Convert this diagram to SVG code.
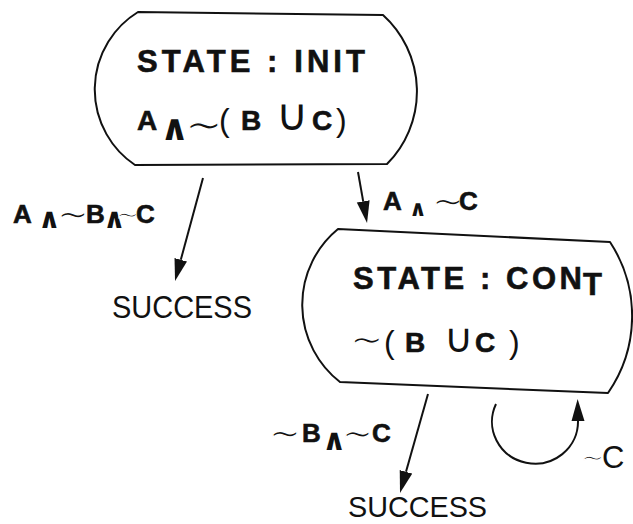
<svg xmlns="http://www.w3.org/2000/svg" width="633" height="524" viewBox="0 0 633 524">
  <style>
    .node { fill: #ffffff; stroke: #111111; stroke-width: 2; stroke-linejoin: round; }
    .edge { fill: none; stroke: #111111; stroke-width: 2; }
    text { fill: #111111; }
    .b { font-family: "Liberation Sans", Arial, sans-serif; font-weight: bold; stroke: #111111; stroke-width: 0.6; }
    .r { font-family: "Liberation Sans", Arial, sans-serif; font-weight: normal; stroke: none; }
    /* tilde: regular weight, thinned by a white outline */
    .t { font-family: "DejaVu Sans", sans-serif; font-weight: normal; stroke: #ffffff; stroke-width: 1.3; }
    /* union sign: light weight */
    .u { font-family: "DejaVu Sans", sans-serif; font-weight: 200; stroke: none; }
    .w { font-family: "DejaVu Sans", sans-serif; font-weight: bold; stroke: none; }
  </style>
  <defs>
    <marker id="head" markerUnits="userSpaceOnUse" markerWidth="24" markerHeight="14" refX="0" refY="6.5" orient="auto">
      <path d="M0,0 L22,6.5 L0,13 Z" fill="#111111"/>
    </marker>
  </defs>

  <!-- initial state -->
  <g id="state-init">
    <path class="node" d="M138,12 L383,15 A103,103 0 0 1 387,164 L135,165 A91,91 0 0 1 138,12 Z"/>
    <text class="b" x="137" y="72" font-size="31" textLength="228" lengthAdjust="spacing">STATE : INIT</text>
    <text class="r" font-size="28"><tspan class="b" x="137" y="130">A</tspan><tspan class="w" x="160" y="140" font-size="36">∧</tspan><tspan class="t" x="185" y="140" font-size="45">∼</tspan><tspan class="r" x="219" y="131" font-size="32">(</tspan><tspan class="b" x="241" y="130">B</tspan><tspan class="u" x="276" y="130" font-size="44">∪</tspan><tspan class="b" x="312" y="130">C</tspan><tspan class="r" x="336" y="131" font-size="32">)</tspan></text>
  </g>

  <!-- continuing state -->
  <g id="state-cont">
    <path class="node" d="M338,229 L610,242 A135,135 0 0 1 608,393 L340,382 A98,98 0 0 1 338,229 Z"/>
    <text class="b" font-size="31"><tspan x="353" y="289" textLength="229" lengthAdjust="spacing">STATE : CON</tspan><tspan x="583" y="295">T</tspan></text>
    <text class="r" font-size="28"><tspan class="t" x="350" y="353" font-size="40">∼</tspan><tspan class="r" x="384" y="353" font-size="32">(</tspan><tspan class="b" x="405" y="352">B</tspan><tspan class="u" x="444" y="352" font-size="40">∪</tspan><tspan class="b" x="475" y="352">C</tspan><tspan class="r" x="509" y="353" font-size="32">)</tspan></text>
  </g>

  <!-- terminal outcomes -->
  <g id="success-1">
    <text class="r" x="112" y="318" font-size="32" textLength="140" lengthAdjust="spacingAndGlyphs">SUCCESS</text>
  </g>
  <g id="success-2">
    <text class="r" x="348" y="517" font-size="30" textLength="139" lengthAdjust="spacingAndGlyphs">SUCCESS</text>
  </g>

  <!-- transitions -->
  <g id="connectors">
    <line class="edge" x1="203" y1="178" x2="180.8" y2="259.8" marker-end="url(#head)"/>
    <line class="edge" x1="358" y1="172" x2="363.2" y2="201.3" marker-end="url(#head)"/>
    <line class="edge" x1="428" y1="394" x2="406" y2="471.8" marker-end="url(#head)"/>
    <path class="edge" d="M496,404 A43,42 0 1 0 578,421" marker-end="url(#head)"/>
  </g>

  <!-- transition labels -->
  <g id="edge-labels">
    <text id="label-init-success" class="r" font-size="26"><tspan class="b" x="13" y="223">A</tspan><tspan class="w" x="38" y="228" font-size="28">∧</tspan><tspan class="t" x="57" y="227" font-size="38">∼</tspan><tspan class="b" x="86" y="223">B</tspan><tspan class="w" x="103" y="228" font-size="28">∧</tspan><tspan class="t" x="116" y="224" font-size="28">∼</tspan><tspan class="b" x="136" y="223">C</tspan></text>
    <text id="label-init-cont" class="r" font-size="26"><tspan class="b" x="383" y="210">A</tspan><tspan class="w" x="409" y="216" font-size="22">∧</tspan><tspan class="t" x="432" y="214" font-size="38">∼</tspan><tspan class="b" x="459" y="210">C</tspan></text>
    <text id="label-cont-success" class="r" font-size="26"><tspan class="t" x="269" y="446" font-size="38">∼</tspan><tspan class="b" x="302" y="442">B</tspan><tspan class="w" x="322" y="450" font-size="30">∧</tspan><tspan class="t" x="342" y="446" font-size="37">∼</tspan><tspan class="b" x="372" y="442">C</tspan></text>
    <text id="label-loop" class="r" font-size="31"><tspan class="t" x="581" y="467" font-size="28">∼</tspan><tspan class="r" x="602" y="468">C</tspan></text>
  </g>
</svg>
